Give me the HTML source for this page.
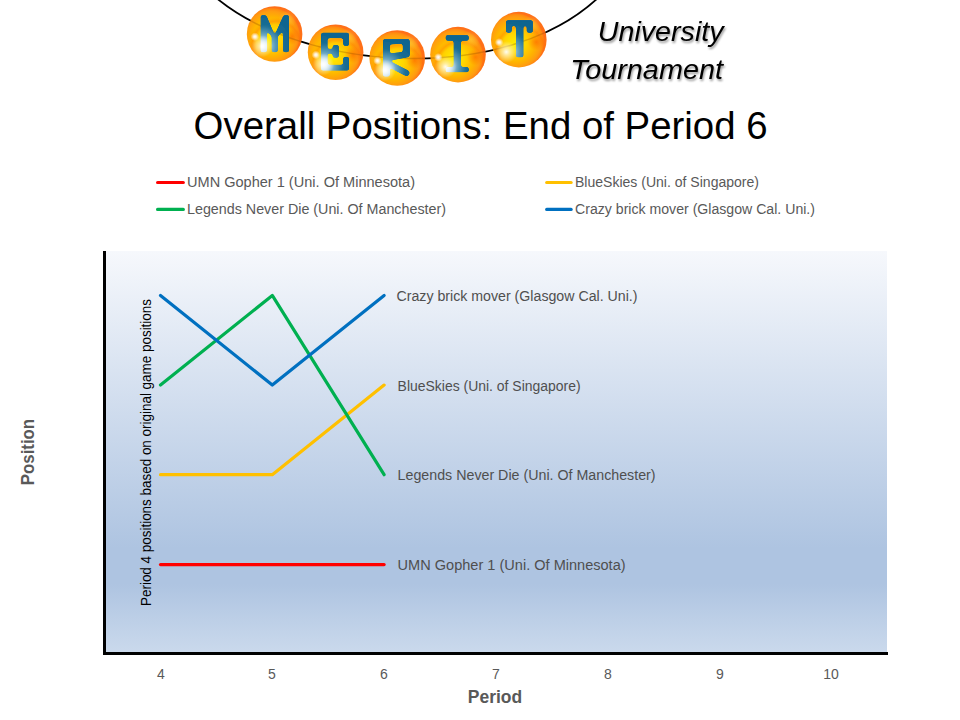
<!DOCTYPE html>
<html><head><meta charset="utf-8">
<style>
html,body{margin:0;padding:0;background:#fff;width:960px;height:720px;overflow:hidden;}
svg{display:block;font-family:"Liberation Sans",sans-serif;}
</style></head>
<body>
<svg width="960" height="720" viewBox="0 0 960 720">
<defs>
  <linearGradient id="plotg" x1="0" y1="0" x2="0" y2="1">
    <stop offset="0" stop-color="#f6f8fc"/>
    <stop offset="0.74" stop-color="#aec4e1"/>
    <stop offset="0.83" stop-color="#aec4e1"/>
    <stop offset="1" stop-color="#cad9ec"/>
  </linearGradient>
</defs>

<!-- plot area -->
<rect x="106" y="251" width="781" height="401" fill="url(#plotg)"/>
<!-- axes -->
<rect x="103" y="251" width="3" height="404" fill="#000"/>
<rect x="103" y="652" width="785" height="3" fill="#000"/>

<!-- series -->
<g fill="none" stroke-width="3.2" stroke-linecap="round" stroke-linejoin="round">
  <polyline points="160.5,564.6 272.3,564.6 384.1,564.6" stroke="#ff0000"/>
  <polyline points="160.5,474.7 272.3,474.7 384.1,385.1" stroke="#ffc000"/>
  <polyline points="160.5,385.1 272.3,295.4 384.1,474.7" stroke="#00b050"/>
  <polyline points="160.5,295.4 272.3,385.1 384.1,295.4" stroke="#0070c0"/>
</g>

<!-- data labels -->
<g font-size="14" fill="#4f4f4f">
  <text x="396.5" y="300.8" textLength="241" lengthAdjust="spacingAndGlyphs">Crazy brick mover  (Glasgow Cal. Uni.)</text>
  <text x="397.6" y="390.5" textLength="183" lengthAdjust="spacingAndGlyphs">BlueSkies (Uni. of Singapore)</text>
  <text x="397.6" y="479.8" textLength="258" lengthAdjust="spacingAndGlyphs">Legends Never Die (Uni. Of Manchester)</text>
  <text x="397.6" y="569.8" textLength="228" lengthAdjust="spacingAndGlyphs">UMN Gopher 1 (Uni. Of Minnesota)</text>
</g>

<!-- vertical annotation -->
<text transform="translate(151.2,606) rotate(-90)" font-size="14" fill="#000" textLength="307" lengthAdjust="spacingAndGlyphs">Period 4 positions based on original game positions</text>

<!-- x tick labels -->
<g font-size="14" fill="#595959" text-anchor="middle">
  <text x="161" y="679">4</text>
  <text x="272" y="679">5</text>
  <text x="384" y="679">6</text>
  <text x="496" y="679">7</text>
  <text x="608" y="679">8</text>
  <text x="720" y="679">9</text>
  <text x="831" y="679">10</text>
</g>
<text x="467.8" y="702.7" font-size="18" font-weight="bold" fill="#595959" textLength="54.4" lengthAdjust="spacingAndGlyphs">Period</text>
<text transform="translate(34.3,485.2) rotate(-90)" font-size="18" font-weight="bold" fill="#595959" textLength="66.3" lengthAdjust="spacingAndGlyphs">Position</text>

<!-- legend -->
<g stroke-width="3.2" stroke-linecap="round">
  <line x1="157.6" y1="182.5" x2="183.3" y2="182.5" stroke="#ff0000"/>
  <line x1="157.6" y1="209.4" x2="183.3" y2="209.4" stroke="#00b050"/>
  <line x1="546.7" y1="182.5" x2="571.1" y2="182.5" stroke="#ffc000"/>
  <line x1="546.7" y1="209.4" x2="571.1" y2="209.4" stroke="#0070c0"/>
</g>
<g font-size="14" fill="#595959">
  <text x="187" y="187" textLength="228" lengthAdjust="spacingAndGlyphs">UMN Gopher 1 (Uni. Of Minnesota)</text>
  <text x="187" y="213.8" textLength="259" lengthAdjust="spacingAndGlyphs">Legends Never Die (Uni. Of Manchester)</text>
  <text x="575" y="187" textLength="184" lengthAdjust="spacingAndGlyphs">BlueSkies (Uni. of Singapore)</text>
  <text x="575" y="213.8" textLength="240" lengthAdjust="spacingAndGlyphs">Crazy brick mover (Glasgow Cal. Uni.)</text>
</g>


<!-- logo -->
<defs>
  <radialGradient id="beadg" gradientUnits="userSpaceOnUse" cx="-3" cy="2" r="28.5" fx="-4" fy="5">
    <stop offset="0" stop-color="#fff000"/>
    <stop offset="0.35" stop-color="#ffd600"/>
    <stop offset="0.7" stop-color="#ffb200"/>
    <stop offset="0.88" stop-color="#ff9c10"/>
    <stop offset="0.96" stop-color="#ff8a10"/>
    <stop offset="1" stop-color="#ff7018"/>
  </radialGradient>
  <radialGradient id="beadtop" gradientUnits="userSpaceOnUse" cx="2" cy="11" r="30">
    <stop offset="0.68" stop-color="#ff7000" stop-opacity="0"/>
    <stop offset="0.8" stop-color="#ff7000" stop-opacity="0.38"/>
    <stop offset="0.92" stop-color="#ff8a00" stop-opacity="0"/>
  </radialGradient>
  <radialGradient id="beadright" gradientUnits="userSpaceOnUse" cx="17.5" cy="2.5" r="8.5">
    <stop offset="0" stop-color="#ff6000" stop-opacity="0.6"/>
    <stop offset="1" stop-color="#ff6a00" stop-opacity="0"/>
  </radialGradient>
  <radialGradient id="beadur" gradientUnits="userSpaceOnUse" cx="13" cy="-15" r="9">
    <stop offset="0" stop-color="#ffd040" stop-opacity="0.55"/>
    <stop offset="1" stop-color="#ffd040" stop-opacity="0"/>
  </radialGradient>
  <radialGradient id="letg" gradientUnits="userSpaceOnUse" cx="-12" cy="12" r="30">
    <stop offset="0" stop-color="#f8fdff"/>
    <stop offset="0.15" stop-color="#cfe6f1"/>
    <stop offset="0.4" stop-color="#5f9fbd"/>
    <stop offset="0.68" stop-color="#1b6e94"/>
    <stop offset="1" stop-color="#0f6590"/>
  </radialGradient>
  <radialGradient id="glow" gradientUnits="userSpaceOnUse" cx="-12.5" cy="12.3" r="11">
    <stop offset="0" stop-color="#fff" stop-opacity="0.95"/>
    <stop offset="0.3" stop-color="#fff" stop-opacity="0.6"/>
    <stop offset="1" stop-color="#fff" stop-opacity="0"/>
  </radialGradient>
  <radialGradient id="dot" gradientUnits="userSpaceOnUse" cx="-19.7" cy="2.7" r="4.3">
    <stop offset="0" stop-color="#fff" stop-opacity="1"/>
    <stop offset="0.35" stop-color="#fff" stop-opacity="0.8"/>
    <stop offset="1" stop-color="#fff" stop-opacity="0"/>
  </radialGradient>
  <g id="bead">
    <circle r="27.8" fill="url(#beadg)"/>
    <circle r="27.8" fill="url(#beadtop)"/>
    <circle r="27.8" fill="url(#beadright)"/>
    <circle r="27.8" fill="url(#beadur)"/>
  </g>
  <g id="hl">
    <circle cx="-12.5" cy="12.3" r="11" fill="url(#glow)"/>
    <circle cx="-19.7" cy="2.7" r="4.3" fill="url(#dot)"/>
  </g>
</defs>
<path d="M214,-4 C303.2,72.4 506.4,86.1 600,-4" fill="none" stroke="#000" stroke-width="1.8"/>
<g transform="translate(274.6,34)"><use href="#bead"/></g>
<g transform="translate(335.6,52.2)"><use href="#bead"/></g>
<g transform="translate(397.2,58)"><use href="#bead"/></g>
<g transform="translate(458,54.6)"><use href="#bead"/></g>
<g transform="translate(518.8,39.65)"><use href="#bead"/></g>
<clipPath id="beadclip"><circle cx="274.6" cy="34" r="27.8"/><circle cx="335.6" cy="52.2" r="27.8"/><circle cx="397.2" cy="58" r="27.8"/><circle cx="458" cy="54.6" r="27.8"/><circle cx="518.8" cy="39.65" r="27.8"/></clipPath>
<path clip-path="url(#beadclip)" d="M214,-4 C303.2,72.4 506.4,86.1 600,-4" fill="none" stroke="#8a4800" stroke-opacity="0.3" stroke-width="1.5"/>
<filter id="roundf" x="-20%" y="-20%" width="140%" height="140%"><feGaussianBlur stdDeviation="1.1"/><feComponentTransfer><feFuncA type="linear" slope="5" intercept="-2"/></feComponentTransfer></filter>
<g fill="url(#letg)" stroke="url(#letg)" stroke-width="0.6" stroke-linejoin="round" filter="url(#roundf)">
  <path transform="translate(274.6,34)" d="M-13.7,-18.7 L-8.5,-18.7 L0.1,1.4 L9.1,-18.7 L14.3,-18.7 L14.3,18 L8.5,18 L8.5,-3.6 L3,2.6 L3,18 L-2.7,18 L-2.7,2.6 L-7.9,-3.6 L-7.9,18 L-13.7,18 Z"/>
  <path transform="translate(335.6,52.2)" d="M-14.4,-19.3 L13.3,-19.3 L13.3,-6.45 L7.8,-6.45 L7.8,-14.3 L-8.3,-14.3 L-8.3,-2.95 L-2.7,-2.95 L-2.7,-7 L3.1,-7 L3.1,5.2 L-2.7,5.2 L-2.7,1.1 L-8.3,1.1 L-8.3,12.8 L7.8,12.8 L7.8,4.9 L13.3,4.9 L13.3,18.05 L-14.4,18.05 Z"/>
  <g transform="translate(397.2,58)">
    <path d="M-14,-18.8 L12.3,-18.8 L12.3,-1.3 L-7.6,2.5 L-7.6,18.25 L-14,18.25 Z M-7.6,-13.8 L5.8,-14.4 L5.8,-5.7 L-7.6,-4.5 Z" fill-rule="evenodd"/>
    <path d="M-9,5.5 L9.3,15" fill="none" stroke-width="6.3" stroke-linecap="round"/>
  </g>
  <path transform="translate(458,54.6)" d="M-12.1,-19.3 L10.6,-19.3 L10.6,-14.2 L2.8,-14.2 L2.8,12.6 L10.6,12.6 L10.6,17.4 L-12.1,17.4 L-12.1,12.6 L-4.1,12.6 L-4.1,-14.2 L-12.1,-14.2 Z"/>
  <path transform="translate(518.8,39.65)" d="M-12.7,-19.25 L13.95,-19.25 L13.95,-7.15 L8.1,-7.15 L8.1,-13.85 L4.4,-13.85 L4.4,17.45 L-2.7,17.45 L-2.7,-13.85 L-7.3,-13.85 L-7.3,-7.15 L-12.7,-7.15 Z"/>
</g>
<g transform="translate(274.6,34)"><use href="#hl"/></g>
<g transform="translate(335.6,52.2)"><use href="#hl"/></g>
<g transform="translate(397.2,58)"><use href="#hl"/></g>
<g transform="translate(458,54.6)"><use href="#hl"/></g>
<g transform="translate(518.8,39.65)"><use href="#hl"/></g>

<!-- University Tournament -->
<defs>
  <filter id="tshadow" x="-10%" y="-30%" width="130%" height="160%">
    <feGaussianBlur in="SourceAlpha" stdDeviation="0.9"/>
    <feOffset dx="1.2" dy="1.5" result="b"/>
    <feComponentTransfer><feFuncA type="linear" slope="0.42"/></feComponentTransfer>
    <feMerge><feMergeNode/><feMergeNode in="SourceGraphic"/></feMerge>
  </filter>
</defs>
<g font-style="italic" font-size="27" fill="#000" filter="url(#tshadow)">
  <text x="597.8" y="41" textLength="125.8" lengthAdjust="spacingAndGlyphs">University</text>
  <text x="570.2" y="78.5" textLength="152.8" lengthAdjust="spacingAndGlyphs">Tournament</text>
</g>

<!-- title -->
<text x="193.6" y="138.6" font-size="38.5" fill="#000" textLength="574" lengthAdjust="spacingAndGlyphs">Overall Positions: End of Period 6</text>

</svg>
</body></html>
